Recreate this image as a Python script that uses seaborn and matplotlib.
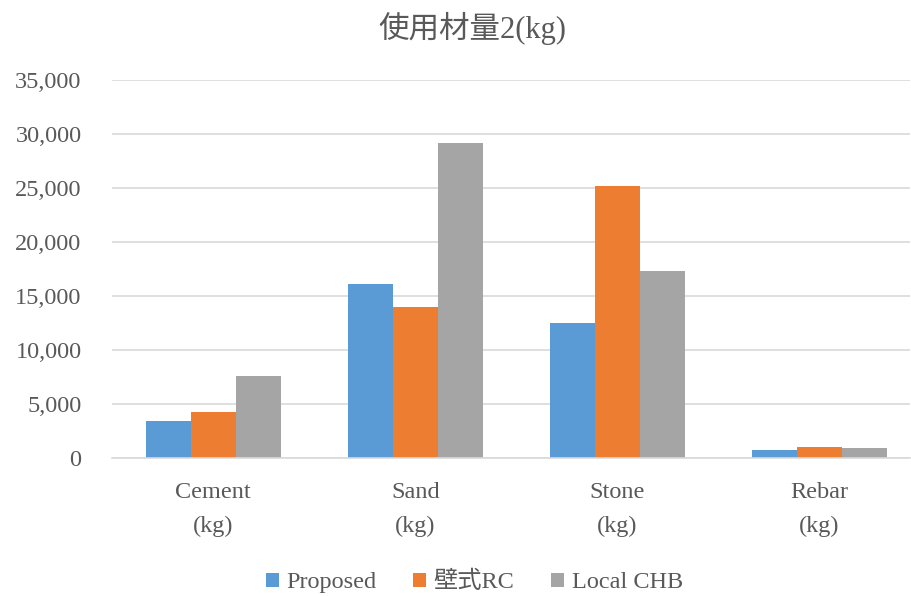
import pandas as pd
import matplotlib
matplotlib.use("Agg")
import matplotlib.pyplot as plt
import seaborn as sns

# data
categories = ["Cement\n(kg)", "Sand\n(kg)", "Stone\n(kg)", "Rebar\n(kg)"]
series = ["Proposed", "壁式RC", "Local CHB"]
proposed = [3400, 16100, 12500, 750]
wall_rc = [4300, 14000, 25200, 1000]
local_chb = [7600, 29200, 17300, 930]
colors = ["#5B9BD5", "#ED7D31", "#A5A5A5"]

df = pd.DataFrame({
    "category": categories * 3,
    "series": [series[0]] * 4 + [series[1]] * 4 + [series[2]] * 4,
    "value": proposed + wall_rc + local_chb,
})

sns.set_style("white")
plt.rcParams["font.family"] = ["Liberation Serif", "Noto Sans CJK JP"]
txt = "#595959"

fig = plt.figure(figsize=(9.12, 5.96), dpi=100)
ax = fig.add_axes([0.123, 0.2315, 0.875, 0.6345])

sns.barplot(data=df, x="category", y="value", hue="series", palette=colors,
            width=0.67, gap=0, saturation=1, linewidth=0, ax=ax, legend=True)

ax.set_ylim(0, 35000)
ax.set_xlim(-0.5, 3.45)
ax.set_yticks(range(0, 35001, 5000))
ax.set_yticklabels([f"{v:,}" for v in range(0, 35001, 5000)])
ax.yaxis.grid(True, color="#D9D9D9", linewidth=1.2)
ax.set_axisbelow(True)
for s in ["top", "right", "left"]:
    ax.spines[s].set_visible(False)
ax.spines["bottom"].set_color("#D9D9D9")
ax.spines["bottom"].set_linewidth(1.2)
ax.tick_params(axis="both", length=0, labelsize=17.5, colors=txt)
ax.tick_params(axis="y", pad=22)
ax.tick_params(axis="x", pad=17)
for lab in ax.get_xticklabels():
    lab.set_linespacing(1.8)
ax.set_xlabel("")
ax.set_ylabel("")

fig.text(0.518, 0.952, "使用材量2(kg)", fontsize=22, color=txt,
         ha="center", va="center")

handles, labels = ax.get_legend_handles_labels()
ax.get_legend().remove()
fig.legend(handles, labels, loc="center", bbox_to_anchor=(0.52, 0.023),
           ncol=3, frameon=False, fontsize=17.5, labelcolor=txt,
           handlelength=0.55, handleheight=0.55, handletextpad=0.3,
           columnspacing=1.5, borderpad=0)

fig.savefig("out.png", dpi=100)
